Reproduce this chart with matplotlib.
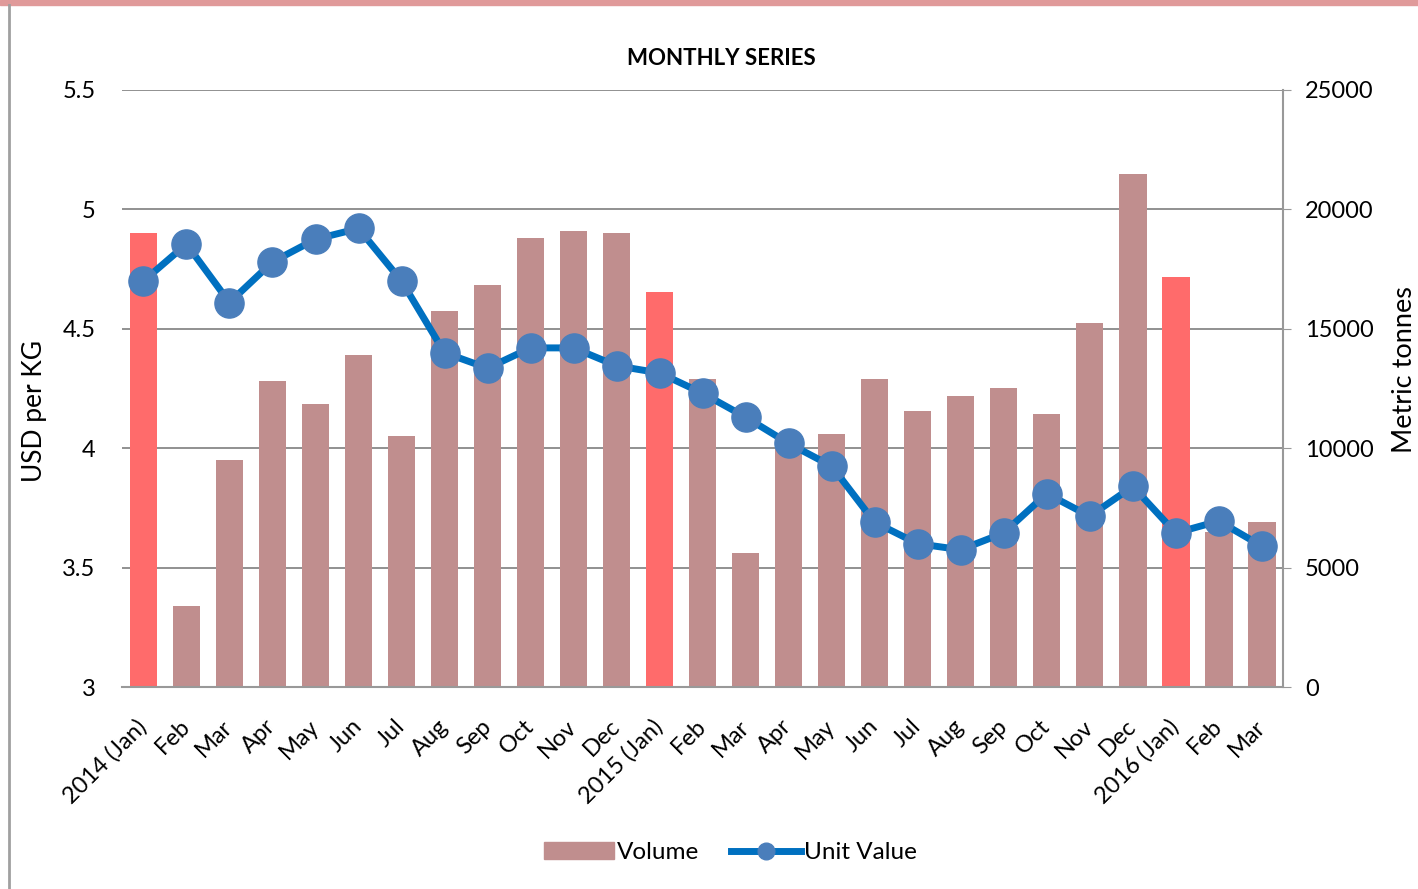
import matplotlib.pyplot as plt
from matplotlib.lines import Line2D
from matplotlib.patches import Patch, Rectangle

months = ["2014 (Jan)", "Feb", "Mar", "Apr", "May", "Jun", "Jul", "Aug", "Sep",
          "Oct", "Nov", "Dec", "2015 (Jan)", "Feb", "Mar", "Apr", "May", "Jun",
          "Jul", "Aug", "Sep", "Oct", "Nov", "Dec", "2016 (Jan)", "Feb", "Mar"]
volume = [19000, 3400, 9500, 12800, 11850, 13900, 10500, 15750, 16850,
          18800, 19100, 19000, 16550, 12900, 5600, 10200, 10600, 12900,
          11550, 12200, 12500, 11450, 15250, 21500, 17150, 6500, 6900]
unit_value = [4.70, 4.855, 4.61, 4.78, 4.875, 4.92, 4.70, 4.40, 4.335,
              4.42, 4.42, 4.345, 4.315, 4.23, 4.13, 4.02, 3.925, 3.69,
              3.60, 3.575, 3.645, 3.81, 3.715, 3.84, 3.645, 3.695, 3.59]

plt.rcParams['font.family'] = ['Lato', 'DejaVu Sans']

fig = plt.figure(figsize=(14.18, 8.89), dpi=100)
# outer frame like the spreadsheet screenshot
fig.patches.append(Rectangle((0, 0.994), 1, 0.006, transform=fig.transFigure,
                             color='#e09a9a', zorder=0))
fig.add_artist(Line2D([0.0065, 0.0065], [0, 0.994], transform=fig.transFigure,
                      color='#a0a0a0', lw=2))

ax = fig.add_axes([0.086, 0.2272, 0.819, 0.6716])
ax2 = ax.twinx()

x = list(range(len(months)))
bar_colors = ['#ff6b6b' if '(' in m else '#c08e8e' for m in months]
ax2.bar(x, volume, width=0.64, color=bar_colors, zorder=2)
ax2.set_ylim(0, 25000)
ax2.set_yticks(range(0, 25001, 5000))

# line drawn on top of bars
ax.set_zorder(ax2.get_zorder() + 1)
ax.patch.set_visible(False)
ax.plot(x, unit_value, color='#0070c0', lw=5, marker='o', markersize=21,
        markerfacecolor='#4a7ebb', markeredgecolor='#4a7ebb', zorder=5)
ax.set_ylim(3, 5.5)
ax.set_yticks([3, 3.5, 4, 4.5, 5, 5.5])
ax.set_yticklabels(['3', '3.5', '4', '4.5', '5', '5.5'])
ax.set_xlim(-0.5, len(months) - 0.5)
ax.set_xticks(x)
ax.set_xticklabels(months, rotation=45, ha='right', va='center',
                   rotation_mode='anchor')

for yv in [3.5, 4, 4.5, 5, 5.5]:
    ax2.axhline((yv - 3) / 2.5 * 25000, color='#888888', lw=1.3, zorder=1)

for a in (ax, ax2):
    for s in a.spines.values():
        s.set_visible(False)
ax2.spines['right'].set_visible(True)
ax2.spines['right'].set_color('#999999')
ax2.spines['right'].set_linewidth(1.5)
ax2.spines['bottom'].set_visible(True)
ax2.spines['bottom'].set_color('#999999')
ax2.spines['bottom'].set_linewidth(1.5)

ax.tick_params(axis='y', length=0, labelsize=17, pad=19)
ax.tick_params(axis='x', length=0, labelsize=17, pad=26)
ax2.tick_params(axis='y', length=5.5, color='#999999', labelsize=17, pad=10)

ax.set_ylabel('USD per KG', fontsize=19)
ax.yaxis.set_label_coords(-0.0646, 0.462)
ax2.set_ylabel('Metric tonnes', fontsize=19.5)
ax2.yaxis.set_label_coords(1.094, 0.531)
ax.set_title('MONTHLY SERIES', fontsize=16, fontweight='bold', pad=18, x=0.516)

handles = [Patch(color='#c08e8e', label='Volume'),
           Line2D([0], [0], color='#0070c0', lw=5, marker='o', markersize=12,
                  markerfacecolor='#4a7ebb', markeredgecolor='#4a7ebb',
                  label='Unit Value')]
fig.legend(handles=handles, loc='center', bbox_to_anchor=(0.515, 0.041),
           ncol=2, frameon=False, fontsize=17.5, handlelength=2.9,
           handletextpad=0.1, columnspacing=1.3)

fig.savefig('out.png', dpi=100)
